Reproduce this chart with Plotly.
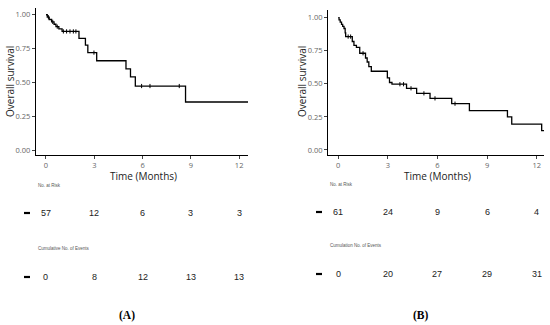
import plotly.graph_objects as go

W, H = 550, 325

# ---- Data ----
# Panel A: Kaplan-Meier steps (event times, survival after each event)
a_times = [0, 0.08, 0.2, 0.35, 0.5, 0.62, 0.8, 1.0, 2.05, 2.45, 2.6, 3.15, 4.97, 5.25, 5.55, 8.67, 12.55]
a_surv = [1.0, 0.982, 0.965, 0.947, 0.93, 0.912, 0.895, 0.877, 0.825, 0.775, 0.72, 0.66, 0.60, 0.54, 0.473, 0.355, 0.355]
a_cens_t = [0.15, 0.42, 0.7, 1.08, 1.28, 1.49, 1.7, 1.86, 2.98, 5.94, 6.46, 8.28]
a_cens_s = [0.982, 0.947, 0.912, 0.877, 0.877, 0.877, 0.877, 0.877, 0.72, 0.473, 0.473, 0.473]

# Panel B
b_times = [0, 0.05, 0.12, 0.2, 0.27, 0.35, 0.42, 0.45, 0.85, 0.95, 1.1, 1.3, 1.65, 1.75, 1.85, 2.0,
           2.97, 3.1, 3.25, 4.13, 4.74, 5.55, 6.86, 7.93, 10.23, 10.49, 12.3, 12.45]
b_surv = [1.0, 0.984, 0.967, 0.95, 0.934, 0.918, 0.885, 0.857, 0.82, 0.79, 0.775, 0.731, 0.695, 0.665, 0.63, 0.595,
          0.545, 0.51, 0.497, 0.466, 0.428, 0.39, 0.35, 0.297, 0.25, 0.196, 0.146, 0.146]
b_cens_t = [0.6, 0.75, 1.5, 3.73, 3.95, 4.4, 5.18, 5.85, 7.06]
b_cens_s = [0.857, 0.857, 0.731, 0.497, 0.497, 0.466, 0.428, 0.39, 0.35]

table_times = [0, 3, 6, 9, 12]
a_risk = [57, 12, 6, 3, 3]
a_events = [0, 8, 12, 13, 13]
b_risk = [61, 24, 9, 6, 4]
b_events = [0, 20, 27, 29, 31]

x_ticks = [0, 3, 6, 9, 12]
y_ticks = [0, 0.25, 0.5, 0.75, 1.0]
y_tick_text = ["0.00", "0.25", "0.50", "0.75", "1.00"]


def px(x):
    return x / W


def py(y):
    return 1 - y / H


fig = go.Figure()

line_style = dict(color="black", width=1.3, shape="hv")
marker_style = dict(symbol="line-ns", size=3, line=dict(color="black", width=1))

fig.add_trace(go.Scatter(x=a_times, y=a_surv, mode="lines", line=line_style,
                         xaxis="x", yaxis="y", showlegend=False, hoverinfo="skip"))
fig.add_trace(go.Scatter(x=a_cens_t, y=a_cens_s, mode="markers", marker=marker_style,
                         xaxis="x", yaxis="y", showlegend=False, hoverinfo="skip"))
fig.add_trace(go.Scatter(x=b_times, y=b_surv, mode="lines", line=line_style,
                         xaxis="x2", yaxis="y2", showlegend=False, hoverinfo="skip"))
fig.add_trace(go.Scatter(x=b_cens_t, y=b_cens_s, mode="markers", marker=marker_style,
                         xaxis="x2", yaxis="y2", showlegend=False, hoverinfo="skip"))

tick_font = dict(family="Open Sans", size=7.5, color="#666666")
common_x = dict(showgrid=False, zeroline=False, showline=True, linecolor="black", linewidth=1.3,
                ticks="outside", ticklen=3, tickcolor="#444444", tickwidth=1,
                tickvals=x_ticks, tickfont=tick_font, fixedrange=True)
common_y = dict(showgrid=False, zeroline=False, showline=True, linecolor="black", linewidth=1.3,
                ticks="outside", ticklen=3, tickcolor="#444444", tickwidth=1,
                tickvals=y_ticks, ticktext=y_tick_text, tickfont=tick_font, fixedrange=True)

fig.update_layout(
    width=W, height=H,
    margin=dict(l=0, r=0, t=0, b=0),
    paper_bgcolor="white", plot_bgcolor="white",
    xaxis=dict(domain=[px(36), px(248)], range=[-0.62, 12.55], anchor="y", **common_x),
    yaxis=dict(domain=[py(155), py(8)], range=[-0.037, 1.05], anchor="x", **common_y),
    xaxis2=dict(domain=[px(328.3), px(544)], range=[-0.6, 12.44], anchor="y2", **common_x),
    yaxis2=dict(domain=[py(155), py(10)], range=[-0.038, 1.058], anchor="x2", **common_y),
)

ann = []
shapes = []
axis_title_font = dict(family="Open Sans", size=10, color="#222222")
small_font = dict(family="Liberation Sans", size=4.5, color="#555555")
num_font = dict(family="Liberation Sans", size=9, color="#222222")


def panel(xref, ycenter_title_x, time_title_x, risk, events, label_x, y_risk_lbl, y_risk, y_ev_lbl, y_ev,
          dash_x, ev_label, panel_lbl, panel_x):
    ann.append(dict(text="Overall survival", x=px(ycenter_title_x), y=py(82), xref="paper", yref="paper",
                    textangle=-90, showarrow=False, font=axis_title_font, xanchor="center", yanchor="middle"))
    ann.append(dict(text="Time (Months)", x=px(time_title_x), y=py(176), xref="paper", yref="paper",
                    showarrow=False, font=axis_title_font, xanchor="center", yanchor="middle", borderpad=0))
    ann.append(dict(text="No. at Risk", x=px(label_x), y=py(y_risk_lbl), xref="paper", yref="paper",
                    showarrow=False, font=small_font, xanchor="left", yanchor="middle"))
    ann.append(dict(text=ev_label, x=px(label_x), y=py(y_ev_lbl), xref="paper", yref="paper",
                    showarrow=False, font=small_font, xanchor="left", yanchor="middle"))
    for t, r, e in zip(table_times, risk, events):
        ann.append(dict(text=str(r), x=t, y=py(y_risk), xref=xref, yref="paper",
                        showarrow=False, font=num_font, xanchor="center", yanchor="middle"))
        ann.append(dict(text=str(e), x=t, y=py(y_ev), xref=xref, yref="paper",
                        showarrow=False, font=num_font, xanchor="center", yanchor="middle"))
    for yy in (y_risk, y_ev):
        shapes.append(dict(type="line", xref="paper", yref="paper",
                           x0=px(dash_x - 3), x1=px(dash_x + 3), y0=py(yy), y1=py(yy),
                           line=dict(color="black", width=2.2)))
    ann.append(dict(text="<b>(" + panel_lbl + ")</b>", x=px(panel_x), y=py(315), xref="paper", yref="paper",
                    showarrow=False, font=dict(family="Liberation Serif", size=11.5, color="black"),
                    xanchor="center", yanchor="middle"))


panel("x", 10, 143, a_risk, a_events, 36, 185, 213, 248, 277, 27, "Cumulative No. of Events", "A", 127)
panel("x2", 302, 437, b_risk, b_events, 328, 184, 212, 245, 274, 319, "Cumulation No. of Events", "B", 421)

fig.update_layout(annotations=ann, shapes=shapes)

fig.write_html(
    "out.html",
    config={"displayModeBar": False},
    post_script="document.body.style.margin='0';document.body.style.overflow='hidden';"
                "document.documentElement.style.overflow='hidden';",
)
